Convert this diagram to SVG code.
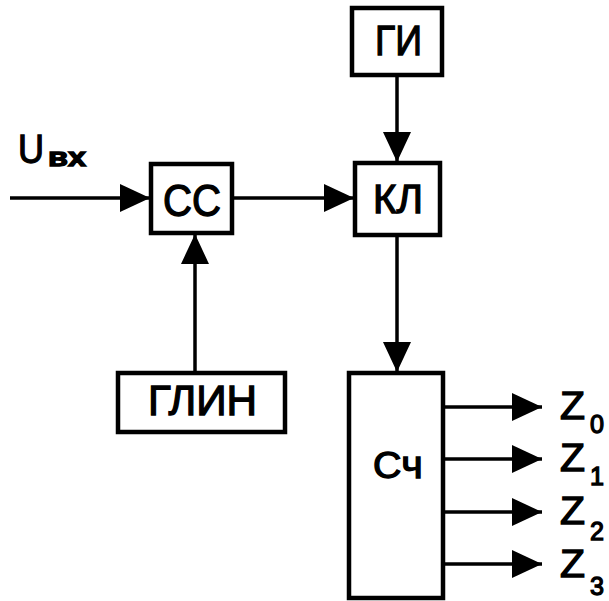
<svg xmlns="http://www.w3.org/2000/svg" width="609" height="601" viewBox="0 0 609 601">
<style>
.box{fill:#fff;stroke:#000;stroke-width:4.5}
.t{font-family:"Liberation Sans",Arial,sans-serif;fill:#000;stroke:#000;stroke-width:1.3}
.c{stroke:#000;stroke-width:3.5;fill:none;marker-end:url(#ah)}
</style>
<defs>
<marker id="ah" markerUnits="userSpaceOnUse" markerWidth="32" markerHeight="30" refX="30" refY="14" orient="auto">
<path d="M0,0 L30,14 L0,28 z" fill="#000"/>
</marker>
</defs>
<rect width="609" height="601" fill="#fff"/>
<g id="connectors">
<line class="c" x1="10" y1="198" x2="150" y2="198"/>
<line class="c" x1="232" y1="198" x2="354" y2="198"/>
<line class="c" x1="397" y1="75" x2="397" y2="162"/>
<line class="c" x1="195" y1="373" x2="195" y2="234"/>
<line class="c" x1="397" y1="235" x2="397" y2="372"/>
<line class="c" x1="443" y1="407" x2="542" y2="407"/>
<line class="c" x1="443" y1="459" x2="542" y2="459"/>
<line class="c" x1="443" y1="512" x2="542" y2="512"/>
<line class="c" x1="443" y1="564" x2="542" y2="564"/>
</g>
<g id="input-label">
<text class="t" x="18" y="163" font-size="40" textLength="26" lengthAdjust="spacingAndGlyphs">U</text>
<text class="t" x="48" y="166" font-size="25" font-weight="bold" textLength="38" lengthAdjust="spacingAndGlyphs">вх</text>
</g>
<g id="node-GI">
<rect class="box" x="352" y="8" width="90" height="67"/>
<text class="t" x="375" y="55" font-size="42" textLength="47" lengthAdjust="spacingAndGlyphs">ГИ</text>
</g>
<g id="node-SS">
<rect class="box" x="151" y="164" width="81" height="69"/>
<text class="t" x="163" y="216" font-size="44" textLength="58" lengthAdjust="spacingAndGlyphs">СС</text>
</g>
<g id="node-KL">
<rect class="box" x="355" y="163" width="85" height="72"/>
<text class="t" x="373" y="213" font-size="40" textLength="50" lengthAdjust="spacingAndGlyphs">КЛ</text>
</g>
<g id="node-GLIN">
<rect class="box" x="118" y="373" width="167" height="59"/>
<text class="t" x="148" y="415" font-size="42" textLength="109" lengthAdjust="spacingAndGlyphs">ГЛИН</text>
</g>
<g id="node-Sch">
<rect class="box" x="349" y="373" width="94" height="225"/>
<text class="t" x="373" y="478" font-size="36" textLength="50" lengthAdjust="spacingAndGlyphs">С<tspan font-size="38">ч</tspan></text>
</g>
<g id="outputs">
<text class="t" x="560" y="419" font-size="38" textLength="25" lengthAdjust="spacingAndGlyphs">Z</text>
<text class="t" x="590" y="433" font-size="26" textLength="14" lengthAdjust="spacingAndGlyphs">0</text>
<text class="t" x="560" y="471" font-size="38" textLength="25" lengthAdjust="spacingAndGlyphs">Z</text>
<text class="t" x="590" y="485" font-size="26" textLength="14" lengthAdjust="spacingAndGlyphs">1</text>
<text class="t" x="560" y="524" font-size="38" textLength="25" lengthAdjust="spacingAndGlyphs">Z</text>
<text class="t" x="590" y="540" font-size="26" textLength="14" lengthAdjust="spacingAndGlyphs">2</text>
<text class="t" x="560" y="577" font-size="38" textLength="25" lengthAdjust="spacingAndGlyphs">Z</text>
<text class="t" x="590" y="595" font-size="26" textLength="14" lengthAdjust="spacingAndGlyphs">3</text>
</g>
</svg>
